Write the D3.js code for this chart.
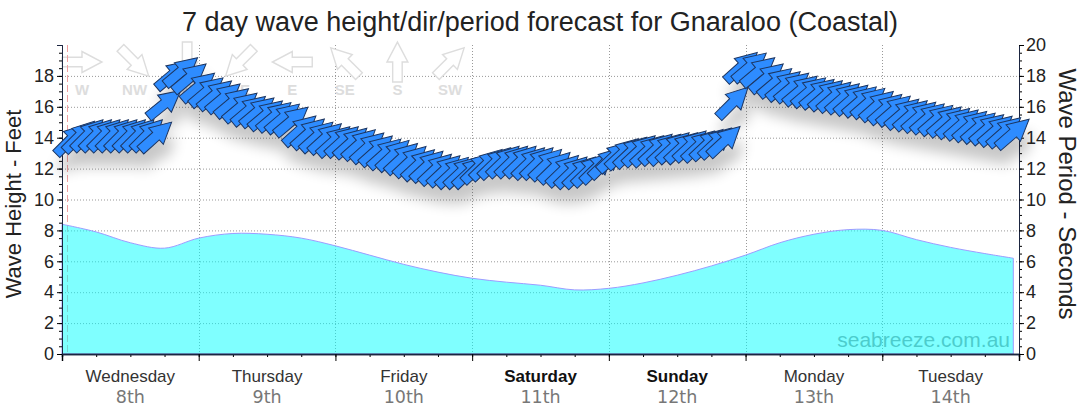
<!DOCTYPE html>
<html>
<head>
<meta charset="utf-8">
<script src="https://cdn.jsdelivr.net/npm/d3@7"></script>
<style>
  body { margin: 0; background: #fff; }
  svg { display: block; font-family: "Liberation Sans", Arial, sans-serif; }
</style>
</head>
<body>
<div id="chart"></div>
<script>
// day labels along the bottom
const days = ["Wednesday", "Thursday", "Friday", "Saturday", "Sunday", "Monday", "Tuesday"];
const dates = ["8th", "9th", "10th", "11th", "12th", "13th", "14th"];
const weekend = [false, false, false, true, true, false, false];

// wave period (seconds), hours from Wednesday 00:00
const periodHours = [0, 6, 12, 18, 24, 30, 36, 42, 48, 54, 60, 66, 72, 78, 84, 90, 96, 102, 108, 114, 120, 126, 132, 138, 144, 150, 156, 162, 167];
const periodSecs = [8.4, 7.9, 7.2, 6.85, 7.5, 7.8, 7.75, 7.5, 7.0, 6.4, 5.8, 5.3, 4.9, 4.65, 4.45, 4.15, 4.25, 4.6, 5.1, 5.7, 6.4, 7.2, 7.75, 8.05, 8.0, 7.4, 6.9, 6.5, 6.2];

// wave height (feet) + direction (deg, coming from), one arrow roughly every 1.5h
const arrowStart = 1.6, arrowStep = 1.49;
const waveHeight = [
  13.9, 14.1, 14.2, 14.2, 14.2, 14.2, 14.2, 14.2, 14.2, 14.2, 14.1, 16.2, 18.1, 18.3, 17.9, 17.3,
  17.0, 16.8, 16.6, 16.3, 16.0, 15.8, 15.7, 15.5, 15.4, 15.3, 15.1, 14.5, 14.3, 14.1, 14.0, 13.8,
  13.8, 13.7, 13.6, 13.4, 13.2, 13.0, 12.9, 12.7, 12.5, 12.3, 12.2, 12.0, 11.9, 11.8, 11.8, 11.8,
  12.1, 12.3, 12.4, 12.5, 12.5, 12.5, 12.4, 12.4, 12.3, 12.1, 11.9, 11.8, 11.8, 11.9, 12.1, 12.4,
  12.8, 13.0, 13.1, 13.2, 13.2, 13.3, 13.3, 13.4, 13.4, 13.5, 13.5, 13.6, 13.7, 13.8, 16.3, 18.6,
  18.6, 18.3, 17.9, 17.6, 17.4, 17.3, 17.1, 17.0, 16.9, 16.8, 16.7, 16.6, 16.5, 16.4, 16.3, 16.1,
  15.9, 15.8, 15.6, 15.5, 15.4, 15.3, 15.2, 15.1, 15.0, 14.9, 14.8, 14.7, 14.6, 14.5, 14.4, 14.3
];
const waveDir = [
  225, 225, 225, 225, 225, 225, 225, 225, 225, 225, 228, 231, 230, 230, 230, 230,
  230, 230, 230, 230, 230, 230, 230, 230, 230, 230, 230, 228, 228, 228, 228, 228,
  228, 228, 228, 228, 228, 228, 227, 227, 227, 227, 227, 227, 227, 227, 227, 227,
  226, 226, 226, 226, 226, 226, 226, 226, 226, 226, 226, 226, 226, 226, 226, 226,
  227, 227, 227, 227, 227, 227, 227, 227, 227, 227, 227, 227, 227, 227, 225, 228,
  230, 230, 230, 230, 230, 230, 230, 230, 230, 229, 229, 229, 229, 229, 229, 229,
  229, 229, 229, 229, 229, 229, 229, 229, 229, 229, 229, 229, 229, 229, 229, 229
];

// compass legend
const compassLabels = ["W", "NW", "N", "NE", "E", "SE", "S", "SW"];
const compassDeg = [270, 315, 0, 45, 90, 135, 180, 225];

const w = 1080, h = 414;
const svg = d3.select("#chart").append("svg").attr("width", w).attr("height", h);

const x = d3.scaleLinear().domain([0, 168]).range([62, 1019]);
const yL = d3.scaleLinear().domain([0, 20]).range([354, 45]);
const yR = d3.scaleLinear().domain([0, 20]).range([354, 45]);

// drop shadow for the arrows
const defs = svg.append("defs");
const f = defs.append("filter").attr("id", "shadow")
    .attr("x", "-5%").attr("y", "-30%").attr("width", "110%").attr("height", "180%");
f.append("feGaussianBlur").attr("in", "SourceAlpha").attr("stdDeviation", 7).attr("result", "blur");
f.append("feOffset").attr("in", "blur").attr("dx", 4).attr("dy", 15).attr("result", "off");
f.append("feComponentTransfer").attr("in", "off").attr("result", "shade")
    .append("feFuncA").attr("type", "linear").attr("slope", 0.22);
const merge = f.append("feMerge");
merge.append("feMergeNode").attr("in", "shade");
merge.append("feMergeNode").attr("in", "SourceGraphic");

// arrow pointing right, centred on 0,0
const arrowPath = "M-21,-5L0,-5L0,-11L21,0L0,11L0,5L-21,5Z";

// grid
const grid = svg.append("g").attr("stroke", "#999").attr("stroke-dasharray", "1,2");
grid.selectAll(".gh").data(d3.range(2, 19, 2)).join("line")
    .attr("x1", 62).attr("x2", 1019).attr("y1", d => yL(d) + 0.5).attr("y2", d => yL(d) + 0.5);
grid.selectAll(".gv").data(d3.range(24, 168, 24)).join("line")
    .attr("x1", d => Math.round(x(d)) + 0.5).attr("x2", d => Math.round(x(d)) + 0.5)
    .attr("y1", 45).attr("y2", 354);

// compass legend
const cx = d3.scaleLinear().domain([0, 7]).range([82, 450]);
const legend = svg.append("g");
compassLabels.forEach((lab, i) => {
    legend.append("path")
        .attr("d", arrowPath)
        .attr("transform", `translate(${cx(i)},62) rotate(${compassDeg[i] + 90}) scale(0.95)`)
        .attr("fill", "#fff").attr("stroke", "#ddd").attr("stroke-width", 1.5);
    legend.append("text")
        .attr("x", cx(i)).attr("y", 95)
        .attr("text-anchor", "middle")
        .attr("fill", "#ddd").style("font-size", "15px").style("font-weight", "bold")
        .text(lab);
});

// now line
svg.append("line")
    .attr("x1", 67.5).attr("x2", 67.5).attr("y1", 45).attr("y2", 354)
    .attr("stroke", "#f0a0a0").attr("stroke-dasharray", "7,3");

// watermark sits under the translucent area
svg.append("text")
    .attr("x", 1010).attr("y", 347).attr("text-anchor", "end")
    .attr("fill", "#999").style("font-size", "21px")
    .text("seabreeze.com.au");

// period area
const periodData = periodHours.map((t, i) => ({ t, v: periodSecs[i] }));
const area = d3.area().x(d => x(d.t)).y0(yR(0)).y1(d => yR(d.v)).curve(d3.curveCatmullRom);
svg.append("path")
    .attr("d", area(periodData))
    .attr("fill", "#00ffff").attr("fill-opacity", 0.5)
    .attr("stroke", "#9c9cff").attr("stroke-width", 1);

// axes
const axisColor = "#1b2540";
const gx = svg.append("g").attr("transform", "translate(0,354)");
gx.call(d3.axisBottom(x).tickValues(d3.range(0, 169, 6)).tickSize(3).tickFormat(""));
gx.append("g").call(d3.axisBottom(x).tickValues(d3.range(0, 169, 24)).tickSize(7).tickFormat(""));
gx.selectAll(".domain").attr("stroke", axisColor).attr("stroke-width", 1.5);

const gl = svg.append("g").attr("transform", "translate(62,0)");
gl.call(d3.axisLeft(yL).tickValues(d3.range(0, 20, 0.5)).tickSize(3).tickFormat(""));
gl.append("g").call(d3.axisLeft(yL).tickValues(d3.range(0, 19, 2)).tickSize(5).tickPadding(3))
    .selectAll("text").style("font-size", "18px").attr("fill", "#222");
gl.selectAll(".domain").attr("stroke", axisColor);

const gr = svg.append("g").attr("transform", "translate(1019,0)");
gr.call(d3.axisRight(yR).tickValues(d3.range(0, 20.1, 0.5)).tickSize(3).tickFormat(""));
gr.append("g").call(d3.axisRight(yR).tickValues(d3.range(0, 21, 2)).tickSize(5).tickPadding(2))
    .selectAll("text").style("font-size", "18px").attr("fill", "#222");
gr.selectAll(".domain").attr("stroke", axisColor);
svg.selectAll(".domain").attr("d", function () { return d3.select(this).attr("d").replace(/M(-?\d+),/, "M0,"); });

// day labels
days.forEach((d, i) => {
    const cxDay = x(i * 24 + 12);
    svg.append("text")
        .attr("x", cxDay).attr("y", 382).attr("text-anchor", "middle")
        .attr("fill", weekend[i] ? "#111" : "#333")
        .style("font-size", "17px").style("font-weight", weekend[i] ? "bold" : "normal")
        .text(d);
    svg.append("text")
        .attr("x", cxDay).attr("y", 403).attr("text-anchor", "middle")
        .attr("fill", "#777").style("font-family", "'DejaVu Sans', Verdana, sans-serif")
        .style("font-size", "17.5px")
        .text(dates[i]);
});

// titles
svg.append("text")
    .attr("x", 540).attr("y", 31).attr("text-anchor", "middle")
    .attr("fill", "#222").style("font-size", "27px")
    .text("7 day wave height/dir/period forecast for Gnaraloo (Coastal)");
svg.append("text")
    .attr("transform", "translate(21,204) rotate(-90)")
    .attr("text-anchor", "middle").attr("fill", "#222").style("font-size", "22px")
    .text("Wave Height - Feet");
svg.append("text")
    .attr("transform", "translate(1059,194) rotate(90)")
    .attr("text-anchor", "middle").attr("fill", "#222").style("font-size", "24px")
    .text("Wave Period - Seconds");

// direction arrows
const arrows = svg.append("g").attr("filter", "url(#shadow)");
waveHeight.forEach((v, i) => {
    const t = arrowStart + i * arrowStep;
    arrows.append("path")
        .attr("d", arrowPath)
        .attr("transform", `translate(${x(t)},${yL(v)}) rotate(${waveDir[i] + 90})`)
        .attr("fill", "#2e8cff").attr("stroke", "#1c3560").attr("stroke-width", 1);
});
</script>
</body>
</html>
